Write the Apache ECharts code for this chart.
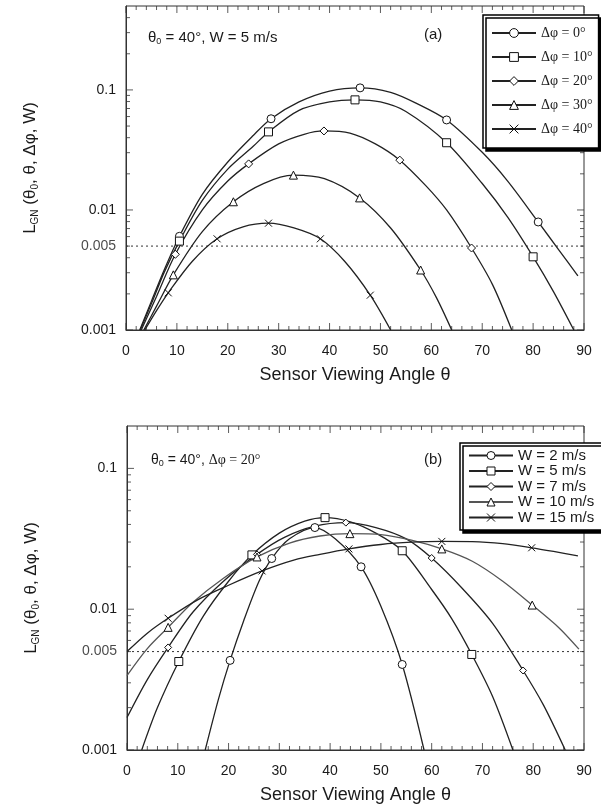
<!DOCTYPE html>
<html><head><meta charset="utf-8">
<script src="https://cdn.jsdelivr.net/npm/echarts@6/dist/echarts.min.js"></script>
<style>html,body{margin:0;padding:0;background:#fff}#c{width:601px;height:806px}</style>
</head><body><div id="c"></div>
<script>
// ---------- Panel (a): theta0 = 40°, W = 5 m/s ----------
const a_dphi0 = [[2.7,0.001],[5,0.00174],[7.5,0.00316],[10.5,0.00603],[15,0.0135],[20,0.0251],[25,0.0417],[28.5,0.0575],[34,0.0794],[40,0.0977],[46,0.104],[52,0.0955],[57,0.0776],[63,0.0562],[70,0.0302],[75,0.0174],[81,0.00794],[85,0.00468],[88.8,0.00282]];
const a_dphi0_marks = [10.5,28.5,46,63,81];
const a_dphi10 = [[2.8,0.001],[5,0.00166],[7.5,0.00302],[10.5,0.0055],[15,0.012],[20,0.0219],[25,0.0339],[28,0.0447],[34,0.0676],[40,0.0794],[45,0.0826],[50,0.0794],[55,0.0661],[63,0.0363],[70,0.0166],[75,0.00871],[80,0.00407],[84,0.00209],[88,0.001]];
const a_dphi10_marks = [10.5,28,45,63,80];
const a_dphi20 = [[3,0.001],[6,0.0019],[9.7,0.00427],[15,0.01],[20,0.0174],[24.1,0.0242],[30,0.0355],[35,0.0427],[38.9,0.0455],[44,0.0437],[49,0.0355],[53.8,0.026],[59,0.0158],[63,0.01],[67.9,0.00482],[72,0.0024],[75.8,0.001]];
const a_dphi20_marks = [9.7,24.1,38.9,53.8,67.9];
const a_dphi30 = [[3.5,0.001],[6,0.00158],[9.3,0.00288],[15,0.0066],[21.1,0.0117],[27,0.0166],[32.9,0.0195],[39,0.0182],[45.9,0.0126],[52,0.00708],[57.9,0.00316],[61,0.00186],[64,0.001]];
const a_dphi30_marks = [9.3,21.1,32.9,45.9,57.9];
const a_dphi40 = [[3.7,0.001],[6,0.00145],[8.3,0.00204],[13,0.00372],[17.9,0.00575],[23,0.00724],[28,0.00776],[33,0.00708],[38.2,0.00575],[43,0.00372],[48,0.00195],[52,0.001]];
const a_dphi40_marks = [8.3,17.9,28,38.2,48];

// ---------- Panel (b): theta0 = 40°, dphi = 20° ----------
const b_w2 = [[15.4,0.001],[18,0.00229],[20.3,0.00433],[23,0.00832],[26,0.0158],[28.5,0.0229],[32,0.0316],[37,0.038],[41,0.0316],[46.1,0.02],[50,0.0105],[54.2,0.00405],[58.5,0.001]];
const b_w2_marks = [20.3,28.5,37,46.1,54.2];
const b_w5 = [[2.9,0.001],[6,0.002],[10.2,0.00425],[15,0.0089],[20,0.0158],[24.6,0.0243],[30,0.0347],[35,0.0422],[39,0.0447],[44,0.0417],[49,0.0347],[54.2,0.026],[60,0.0138],[64,0.00851],[67.9,0.00477],[72,0.0024],[76,0.001]];
const b_w5_marks = [10.2,24.6,39,54.2,67.9];
const b_w7 = [[0,0.0017],[4,0.00316],[8.1,0.00535],[13,0.00955],[19,0.0158],[25.6,0.0245],[31,0.0324],[37,0.0389],[43.1,0.0412],[49,0.038],[55,0.0316],[60,0.0231],[66,0.0141],[72,0.00794],[78,0.00367],[82,0.00209],[86.3,0.001]];
const b_w7_marks = [8.1,25.6,43.1,60,78];
const b_w10 = [[0,0.00338],[4,0.00525],[8.1,0.00743],[13,0.0112],[19,0.0166],[25.6,0.0235],[32,0.0295],[38,0.0331],[43.9,0.0344],[50,0.0339],[56,0.0309],[62,0.0268],[68,0.0219],[74,0.0158],[79.8,0.0107],[85,0.00741],[89,0.0052]];
const b_w10_marks = [8.1,25.6,43.9,62,79.8];
const b_w15 = [[0,0.005],[4,0.00676],[8.1,0.00862],[14,0.0117],[20,0.0148],[26.6,0.0187],[33,0.0224],[38,0.0245],[43.7,0.0268],[50,0.0288],[56,0.0299],[62,0.0303],[68,0.0302],[74,0.0292],[79.7,0.0273],[84,0.0257],[88.8,0.0239]];
const b_w15_marks = [8.1,26.6,43.7,62,79.7];

// ---------- axes / ticks / labels ----------
const xRange = [0, 90];
const xInterval = 10;
const xMajor = [0,10,20,30,40,50,60,70,80,90];
const xMinor = [2,4,6,8,12,14,16,18,22,24,26,28,32,34,36,38,42,44,46,48,52,54,56,58,62,64,66,68,72,74,76,78,82,84,86,88];
const yRangeA = [0.001, 0.5];
const yRangeB = [0.001, 0.2];
const yLabelVals = [0.001, 0.01, 0.1];
const yMajor = [0.001, 0.01, 0.1];
const yMinorA = [0.002,0.003,0.004,0.005,0.006,0.007,0.008,0.009,0.02,0.03,0.04,0.05,0.06,0.07,0.08,0.09,0.2,0.3,0.4];
const yMinorB = [0.002,0.003,0.004,0.005,0.006,0.007,0.008,0.009,0.02,0.03,0.04,0.05,0.06,0.07,0.08,0.09];
const refLevel = 0.005;
const namesA = ['Δφ = 0°','Δφ = 10°','Δφ = 20°','Δφ = 30°','Δφ = 40°'];
const namesB = ['W = 2 m/s','W = 5 m/s','W = 7 m/s','W = 10 m/s','W = 15 m/s'];

const SANS = '"Liberation Sans", Arial, sans-serif';
const SERIF = '"Liberation Serif", "Times New Roman", serif';
const INK = '#1a1a1a';
const TICK = '#333';
const crossPath = 'path://M0,0L10,10M10,0L0,10';

function mk(name, pts, marks, sym, size, gi, color) {
  return {
    type: 'line', name, xAxisIndex: gi, yAxisIndex: gi,
    smooth: 0.3, symbol: sym, symbolSize: size, showSymbol: true,
    showAllSymbol: true, clip: true, animation: false, z: 3,
    data: pts.map(p => ({ value: p, symbol: marks.includes(p[0]) ? sym : 'none' })),
    lineStyle: { color: color || '#222', width: 1.3 },
    itemStyle: { color: '#fff', borderColor: '#111', borderWidth: 1 },
    emphasis: { disabled: true }
  };
}

// tick marks drawn as small rects positioned by the axes' own scales
function tickSeries(gi, pts, size, offset) {
  return {
    type: 'scatter', xAxisIndex: gi, yAxisIndex: gi, silent: true, animation: false, clip: false,
    symbol: 'rect', symbolSize: size, symbolOffset: offset, z: 2,
    itemStyle: { color: TICK }, emphasis: { disabled: true },
    data: pts
  };
}
function ticksFor(gi, yr, yMinor) {
  const out = [];
  out.push(tickSeries(gi, xMajor.map(x => [x, yr[0]]), [1, 7], [0, -3.5]));
  out.push(tickSeries(gi, xMajor.map(x => [x, yr[1]]), [1, 7], [0, 3.5]));
  out.push(tickSeries(gi, xMinor.map(x => [x, yr[0]]), [1, 4], [0, -2]));
  out.push(tickSeries(gi, xMinor.map(x => [x, yr[1]]), [1, 4], [0, 2]));
  out.push(tickSeries(gi, yMajor.map(y => [xRange[0], y]), [7, 1], [3.5, 0]));
  out.push(tickSeries(gi, yMajor.map(y => [xRange[1], y]), [7, 1], [-3.5, 0]));
  out.push(tickSeries(gi, yMinor.map(y => [xRange[0], y]), [4, 1], [2, 0]));
  out.push(tickSeries(gi, yMinor.map(y => [xRange[1], y]), [4, 1], [-2, 0]));
  return out;
}

function refSeries(gi) {
  return [{
    type: 'line', xAxisIndex: gi, yAxisIndex: gi, silent: true, animation: false, symbol: 'none', z: 2,
    lineStyle: { type: [2, 3], color: '#333', width: 1 },
    data: [[xRange[0], refLevel], [xRange[1], refLevel]]
  }, {
    type: 'scatter', xAxisIndex: gi, yAxisIndex: gi, silent: true, animation: false, clip: false,
    symbol: 'circle', symbolSize: 0.01, itemStyle: { color: 'rgba(0,0,0,0)' },
    label: { show: true, position: 'left', distance: 10, formatter: String(refLevel), fontSize: 14, color: INK, fontFamily: SANS },
    data: [[xRange[0], refLevel]]
  }];
}

const axisLineS = { show: true, lineStyle: { color: '#333', width: 1 } };
function xAx(gi) {
  return {
    gridIndex: gi, type: 'value', position: 'bottom', min: xRange[0], max: xRange[1], interval: xInterval,
    axisLine: axisLineS, axisTick: { show: false }, splitLine: { show: false },
    axisLabel: { margin: 14, fontSize: 14, color: INK, fontFamily: SANS },
    name: 'Sensor Viewing Angle θ', nameLocation: 'middle', nameGap: 36,
    nameTextStyle: { fontSize: 18, color: INK, fontFamily: SANS }
  };
}
function yAx(gi, range) {
  return {
    gridIndex: gi, type: 'log', logBase: 10, position: 'left', min: range[0], max: range[1],
    axisLine: axisLineS, axisTick: { show: false }, splitLine: { show: false },
    axisLabel: {
      margin: 10, fontSize: 14, color: INK, fontFamily: SANS,
      formatter: v => { const r = Number(Number(v).toPrecision(3)); return yLabelVals.includes(r) ? String(r) : ''; }
    },
    name: '{m|L}{s|GN}{m| (θ}{s|0}{m|, θ, Δφ, W)}',
    nameLocation: 'middle', nameGap: 86, nameRotate: 90,
    nameTextStyle: {
      color: INK, fontFamily: SANS,
      rich: {
        m: { fontSize: 17, color: INK, fontFamily: SANS },
        s: { fontSize: 10, color: INK, fontFamily: SANS, padding: [9, 0, 0, 0] }
      }
    }
  };
}

const sA = [
  mk(namesA[0], a_dphi0, a_dphi0_marks, 'circle', 8, 0),
  mk(namesA[1], a_dphi10, a_dphi10_marks, 'rect', 8, 0),
  mk(namesA[2], a_dphi20, a_dphi20_marks, 'diamond', 8, 0),
  mk(namesA[3], a_dphi30, a_dphi30_marks, 'triangle', 8, 0),
  mk(namesA[4], a_dphi40, a_dphi40_marks, crossPath, 7, 0)
];
const sB = [
  mk(namesB[0], b_w2, b_w2_marks, 'circle', 8, 1),
  mk(namesB[1], b_w5, b_w5_marks, 'rect', 8, 1),
  mk(namesB[2], b_w7, b_w7_marks, 'diamond', 7, 1),
  mk(namesB[3], b_w10, b_w10_marks, 'triangle', 8, 1, '#555'),
  mk(namesB[4], b_w15, b_w15_marks, crossPath, 7, 1)
];

const legendBase = {
  orient: 'vertical', backgroundColor: '#fff', borderColor: '#000', borderWidth: 1.5,
  shadowColor: '#000', shadowBlur: 0, shadowOffsetX: 3, shadowOffsetY: 3,
  itemWidth: 44, selectedMode: false, z: 20, zlevel: 0,
  itemStyle: { color: '#fff', borderColor: '#111', borderWidth: 1 }
};

const chart = echarts.init(document.getElementById('c'), null, { renderer: 'canvas' });
chart.setOption({
  animation: false,
  backgroundColor: '#fff',
  grid: [
    { left: 126, top: 6, width: 458, height: 324, show: true, borderColor: '#333', borderWidth: 1, backgroundColor: 'transparent' },
    { left: 127, top: 426, width: 457, height: 324, show: true, borderColor: '#333', borderWidth: 1, backgroundColor: 'transparent' }
  ],
  xAxis: [xAx(0), xAx(1)],
  yAxis: [yAx(0, yRangeA), yAx(1, yRangeB)],
  legend: [
    Object.assign({}, legendBase, {
      data: namesA, left: 483, top: 15, padding: [10, 6, 11, 8], itemGap: 8, itemHeight: 11,
      textStyle: { fontFamily: SERIF, fontSize: 14, lineHeight: 16, color: INK }
    }),
    Object.assign({}, legendBase, {
      data: namesB, left: 460, top: 443, padding: [5, 8, 5, 8], itemGap: 0.5, itemHeight: 10,
      textStyle: { fontFamily: SANS, fontSize: 15, lineHeight: 15, color: INK }
    })
  ],
  graphic: [
    { type: 'text', left: 148, top: 30, silent: true, style: {
      text: '{m|θ}{s|0}{m| = 40°, W = 5 m/s}',
      rich: { m: { fontSize: 15, fontFamily: SANS, fill: INK }, s: { fontSize: 9, fontFamily: SANS, fill: INK, padding: [8, 0, 0, 0] } }
    }},
    { type: 'text', left: 424, top: 27, silent: true, style: { text: '(a)', fontSize: 15, fontFamily: SANS, fill: INK } },
    { type: 'text', left: 151, top: 453, silent: true, style: {
      text: '{m|θ}{s|0}{m| = 40°, }{r|Δφ = 20°}',
      rich: { m: { fontSize: 14, fontFamily: SANS, fill: INK }, s: { fontSize: 9, fontFamily: SANS, fill: INK, padding: [8, 0, 0, 0] }, r: { fontSize: 14, fontFamily: SERIF, fill: INK } }
    }},
    { type: 'text', left: 424, top: 452, silent: true, style: { text: '(b)', fontSize: 15, fontFamily: SANS, fill: INK } }
  ],
  series: [].concat(sA, sB, refSeries(0), refSeries(1), ticksFor(0, yRangeA, yMinorA), ticksFor(1, yRangeB, yMinorB))
});
</script></body></html>
